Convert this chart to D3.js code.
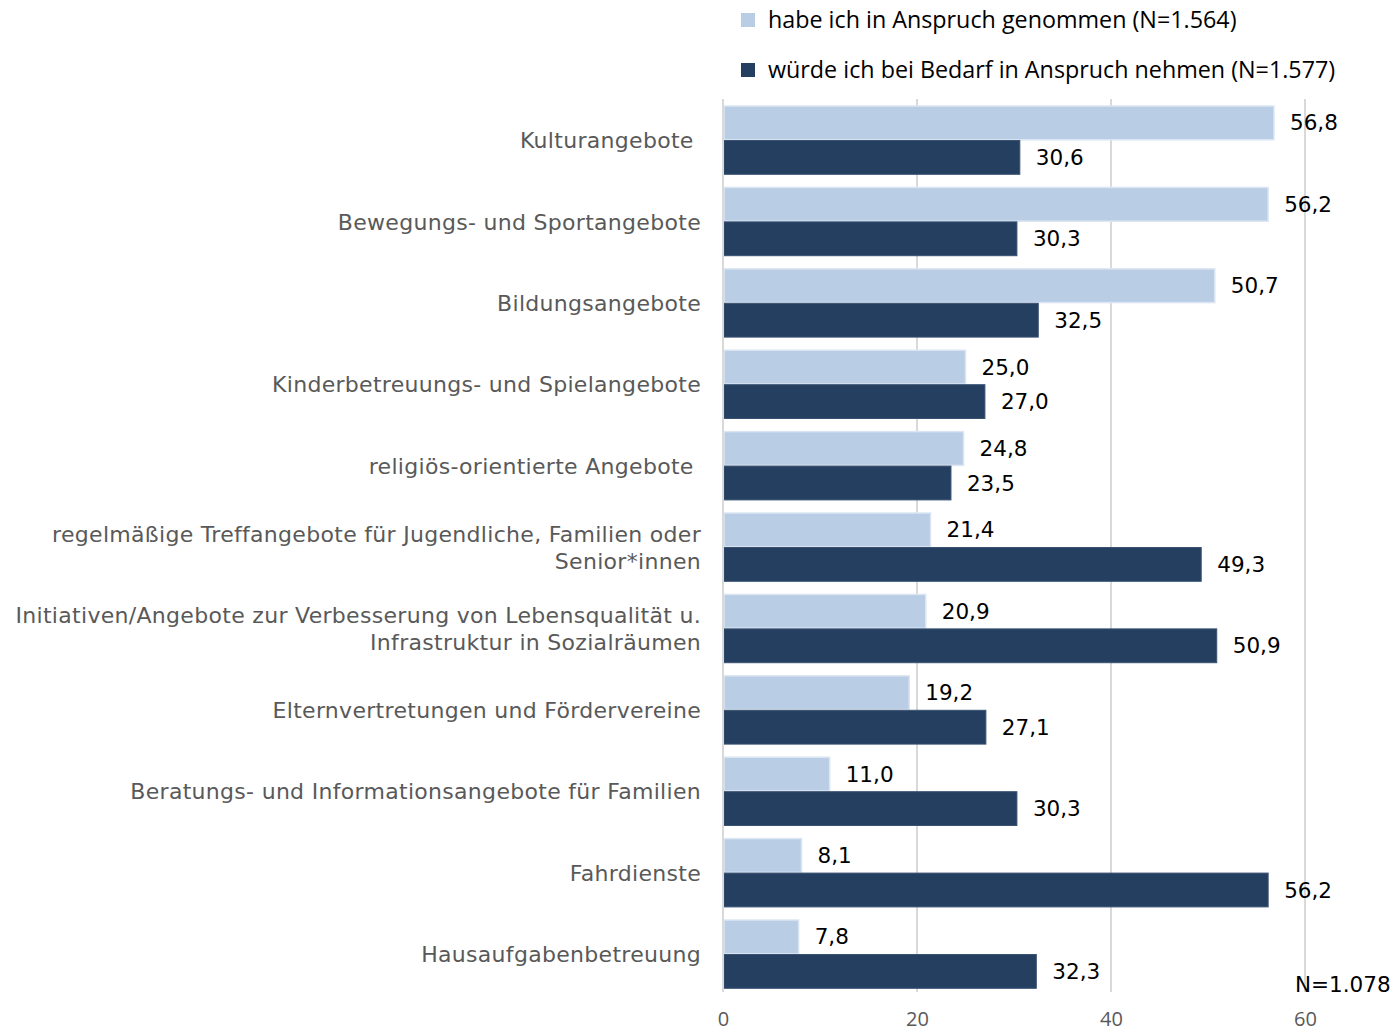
<!DOCTYPE html>
<html>
<head>
<meta charset="utf-8">
<script src="https://cdn.jsdelivr.net/npm/d3@7"></script>
<style>
  html, body { margin: 0; padding: 0; background: #fff; }
  svg { display: block; }
  text { white-space: pre; }
</style>
</head>
<body>
<svg id="chart" width="1394" height="1032"></svg>
<script>
// Angebote (top to bottom)
const categories = [
  ["Kulturangebote "],
  ["Bewegungs- und Sportangebote"],
  ["Bildungsangebote"],
  ["Kinderbetreuungs- und Spielangebote"],
  ["religiös-orientierte Angebote "],
  ["regelmäßige Treffangebote für Jugendliche, Familien oder", "Senior*innen"],
  ["Initiativen/Angebote zur Verbesserung von Lebensqualität u.", "Infrastruktur in Sozialräumen"],
  ["Elternvertretungen und Fördervereine"],
  ["Beratungs- und Informationsangebote für Familien"],
  ["Fahrdienste"],
  ["Hausaufgabenbetreuung"]
];
// Anteile in Prozent
const genutzt = [56.8, 56.2, 50.7, 25.0, 24.8, 21.4, 20.9, 19.2, 11.0, 8.1, 7.8];
const beiBedarf = [30.6, 30.3, 32.5, 27.0, 23.5, 49.3, 50.9, 27.1, 30.3, 56.2, 32.3];
const seriesNames = [
  "habe ich in Anspruch genommen (N=1.564)",
  "würde ich bei Bedarf in Anspruch nehmen (N=1.577)"
];
const xTicks = [0, 20, 40, 60];
const totalNote = "N=1.078";

const colors = ["#b9cde5", "#243f60"];
const strokes = ["#dce6f2", "#3a5272"];
const verdana = "'DejaVu Sans', Verdana, sans-serif";

const svg = d3.select("#chart");
const fmt = v => d3.format(".1f")(v).replace(".", ",");

const x = d3.scaleLinear().domain([0, 60]).range([723, 1305]);
const y = d3.scaleBand().domain(d3.range(categories.length)).range([99.3, 994.7]).padding(0);
const sub = d3.scaleBand().domain([0, 1]).range([6.7, 75]).paddingInner(0.02);

// grid lines
svg.append("g").selectAll("line")
  .data(xTicks)
  .join("line")
  .attr("x1", d => x(d)).attr("x2", d => x(d))
  .attr("y1", 99).attr("y2", 992)
  .attr("stroke", "#d9d9d9")
  .attr("stroke-width", 2);

// x axis tick labels (baseline placed so the glyph box stays inside the canvas)
const axis = svg.append("g")
  .attr("transform", "translate(0,1026)")
  .call(d3.axisBottom(x).tickValues(xTicks).tickSize(0).tickPadding(0));
axis.select(".domain").remove();
axis.selectAll("text")
  .attr("dy", "0")
  .attr("font-family", "'Open Sans', sans-serif")
  .attr("font-size", 20)
  .attr("fill", "#595959");

// bars
const rows = categories.map((c, i) => ({ i, vals: [genutzt[i], beiBedarf[i]] }));
const groups = svg.append("g").selectAll("g")
  .data(rows)
  .join("g")
  .attr("transform", d => `translate(0,${y(d.i)})`);

groups.selectAll("rect")
  .data(d => d.vals.map((v, s) => ({ v, s })))
  .join("rect")
  .attr("x", x(0) + 1)
  .attr("y", d => sub(d.s))
  .attr("width", d => x(d.v) - x(0) - 1)
  .attr("height", sub.bandwidth())
  .attr("fill", d => colors[d.s])
  .attr("stroke", d => strokes[d.s])
  .attr("stroke-width", d => d.s === 0 ? 1.5 : 1);

groups.selectAll("text.val")
  .data(d => d.vals.map((v, s) => ({ v, s })))
  .join("text")
  .attr("class", "val")
  .attr("x", d => x(d.v) + 16)
  .attr("y", d => sub(d.s) + sub.bandwidth() / 2)
  .attr("dy", "0.35em")
  .attr("font-family", verdana)
  .attr("font-size", 21.5)
  .attr("fill", "#000")
  .text(d => fmt(d.v));

// category labels
const lineH = 27;
groups.append("text")
  .attr("text-anchor", "end")
  .attr("font-family", verdana)
  .attr("font-size", 22)
  .attr("letter-spacing", "0.3px")
  .attr("fill", "#595959")
  .each(function(d) {
    const lines = categories[d.i];
    const mid = y.bandwidth() / 2 + 0.5;
    d3.select(this).selectAll("tspan")
      .data(lines)
      .join("tspan")
      .attr("x", 701)
      .attr("y", (l, k) => mid + (k - (lines.length - 1) / 2) * lineH)
      .attr("dy", "0.35em")
      .text(l => l);
  });

// vertical axis line
svg.append("line")
  .attr("x1", x(0)).attr("x2", x(0))
  .attr("y1", 99).attr("y2", 992)
  .attr("stroke", "#d9d9d9")
  .attr("stroke-width", 2);

// legend
const legend = svg.append("g").selectAll("g")
  .data(seriesNames)
  .join("g")
  .attr("transform", (d, i) => `translate(741,${20 + i * 50})`);
legend.append("rect")
  .attr("x", 0).attr("y", -7)
  .attr("width", 14).attr("height", 14)
  .attr("fill", (d, i) => colors[i]);
legend.append("text")
  .attr("x", 27).attr("y", 0)
  .attr("dy", "0.35em")
  .attr("font-family", "'Open Sans', sans-serif")
  .attr("font-size", 23.3)
  .attr("fill", "#000")
  .text(d => d);

// sample size note
svg.append("text")
  .attr("x", 1295).attr("y", 984)
  .attr("dy", "0.35em")
  .attr("font-family", verdana)
  .attr("font-size", 21.5)
  .attr("fill", "#000")
  .text(totalNote);
</script>
</body>
</html>
